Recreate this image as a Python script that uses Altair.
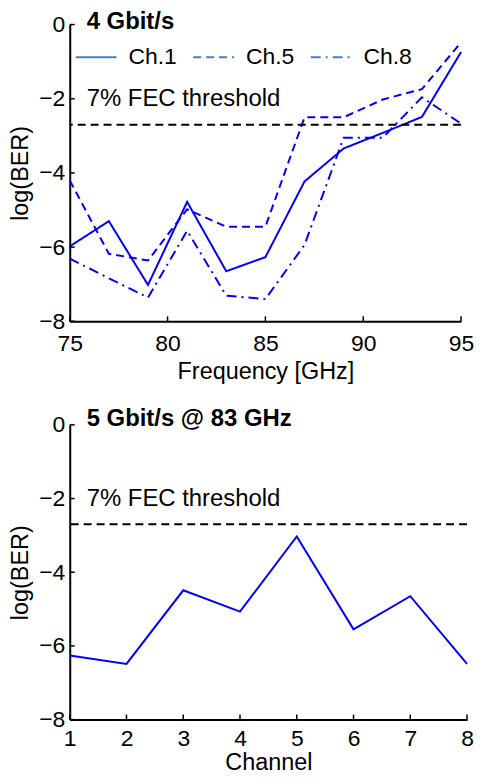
import altair as alt
import pandas as pd

# ---- data ----
freq = [75, 77, 79, 81, 83, 85, 87, 89, 91, 93, 95]
ch1 = [-5.98, -5.30, -7.02, -4.78, -6.65, -6.27, -4.23, -3.34, -2.92, -2.49, -0.74]
ch5 = [-4.20, -6.18, -6.36, -4.98, -5.45, -5.45, -2.50, -2.50, -2.02, -1.74, -0.48]
ch8 = [-6.31, -6.84, -7.36, -5.56, -7.31, -7.40, -5.94, -3.05, -3.05, -1.96, -2.67]
series_names = ["Ch.1", "Ch.5", "Ch.8"]

channels = [1, 2, 3, 4, 5, 6, 7, 8]
ber_83 = [-6.26, -6.49, -4.49, -5.07, -3.03, -5.55, -4.65, -6.49]

fec_threshold = -2.7
fec_label = "7% FEC threshold"
fec_label_y = -2
title_top = "4 Gbit/s"
title_bottom = "5 Gbit/s @ 83 GHz"

y_ticks = [-8, -6, -4, -2, 0]
freq_ticks = [75, 80, 85, 90, 95]
chan_ticks = [1, 2, 3, 4, 5, 6, 7, 8]

FONT = "Liberation Sans"
BLUE = "#0000FF"
LEGEND_BLUE = "#4a7ec0"
W1, W2 = 393, 399
H1, H2 = 298, 296
TICK = 5

rows = []
for name, vals in zip(series_names, [ch1, ch5, ch8]):
    for f, v in zip(freq, vals):
        rows.append({"freq": f, "ber": v, "ch": name})
top_df = pd.DataFrame(rows)
bot_df = pd.DataFrame({"chan": channels, "ber": ber_83})

yscale = alt.Scale(domain=[-8, 0], nice=False, zero=False)
yaxis = alt.Axis(values=y_ticks, title="log(BER)", labelPadding=5,
                 titlePadding=6, labelOverlap=False, labelFlush=False)


def make_panel(base, xfield, xticks, xdomain, xtitle, width, height,
               title_text, title_dy, lab_pad, tit_pad):
    xscale = alt.Scale(domain=xdomain, nice=False, zero=False)
    xaxis = alt.Axis(values=xticks, title=xtitle, labelFlush=False,
                     labelPadding=lab_pad, titlePadding=tit_pad, labelOverlap=False)
    X = lambda: alt.X(f"{xfield}:Q", scale=xscale, axis=xaxis)
    Y = lambda: alt.Y("ber:Q", scale=yscale, axis=yaxis)

    main = base.encode(x=X(), y=Y())
    thr = alt.Chart(pd.DataFrame({"ber": [fec_threshold]})).mark_rule(
        color="black", strokeDash=[8, 5], strokeWidth=2
    ).encode(y=Y())
    fec = alt.Chart(pd.DataFrame({"ber": [fec_label_y], "t": [fec_label]})).mark_text(
        align="left", baseline="middle", font=FONT, fontSize=24, color="black"
    ).encode(x=alt.value(17), y=Y(), text="t:N")
    ttl = alt.Chart(pd.DataFrame({"t": [title_text]})).mark_text(
        align="left", baseline="middle", font=FONT, fontSize=24,
        fontWeight="bold", color="black"
    ).encode(x=alt.value(17), y=alt.value(title_dy), text="t:N")
    yt = alt.Chart(pd.DataFrame({"ber": y_ticks})).mark_rule(
        color="black", strokeWidth=1.5
    ).encode(y=Y(), x=alt.value(0), x2=alt.value(TICK))
    xt = alt.Chart(pd.DataFrame({xfield: xticks})).mark_rule(
        color="black", strokeWidth=1.5
    ).encode(x=X(), y=alt.value(height), y2=alt.value(height - TICK))
    return alt.layer(main, thr, fec, ttl, yt, xt).properties(width=width, height=height)


base_top = alt.Chart(top_df).mark_line(color=BLUE, strokeWidth=2).encode(
    strokeDash=alt.StrokeDash(
        "ch:N",
        scale=alt.Scale(domain=series_names, range=[[1, 0], [8, 5], [10, 5, 2, 5]]),
        legend=alt.Legend(
            orient="none", legendX=5, legendY=11, direction="horizontal",
            title=None, symbolType="stroke", symbolSize=1681,
            symbolStrokeWidth=2, symbolStrokeColor=LEGEND_BLUE,
            labelFont=FONT, labelFontSize=23, labelColor="black",
            labelOffset=11, columnPadding=12, padding=0,
        ),
    ),
)
top = make_panel(base_top, "freq", freq_ticks, [75, 95], "Frequency [GHz]",
                 W1, H1, title_top, -2.5, 11, 4)

base_bot = alt.Chart(bot_df).mark_line(color=BLUE, strokeWidth=2)
bottom = make_panel(base_bot, "chan", chan_ticks, [1, 8], "Channel",
                    W2, H2, title_bottom, -6, 8, 0)

chart = alt.vconcat(top, bottom, spacing=24).properties(
    padding={"left": 0, "top": 0, "right": 0, "bottom": 0}
).configure_view(stroke=None).configure_axis(
    domainColor="black", domainWidth=2, ticks=False, grid=False,
    labelFont=FONT, labelFontSize=23, labelColor="black",
    titleFont=FONT, titleFontSize=23.5, titleFontWeight="normal", titleColor="black",
)

chart.save("out.html", embed_options={"renderer": "svg", "actions": False})
